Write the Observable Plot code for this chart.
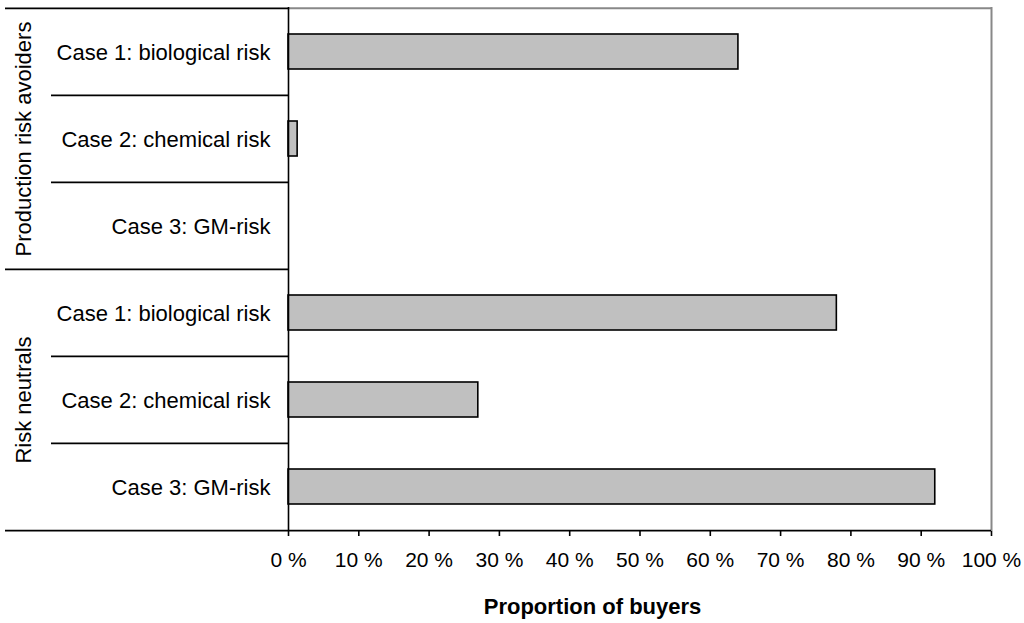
<!DOCTYPE html>
<html>
<head>
<meta charset="utf-8">
<script src="https://cdn.jsdelivr.net/npm/d3@7"></script>
<script src="https://cdn.jsdelivr.net/npm/@observablehq/plot@0.6"></script>
<style>
  html, body { margin: 0; padding: 0; background: #fff; }
  svg { display: block; }
</style>
</head>
<body>
<div id="chart"></div>
<script>
const groups = ["Production risk avoiders", "Risk neutrals"];
const cases = ["Case 1: biological risk", "Case 2: chemical risk", "Case 3: GM-risk"];
const avoiders = [64, 1.3, 0];
const neutrals = [78, 27, 92];
const xTicks = [0, 10, 20, 30, 40, 50, 60, 70, 80, 90, 100];
const xLabel = "Proportion of buyers";

const W = 1024, H = 623;
const mL = 288, mR = 33, mT = 7, mB = 92;
const series = [avoiders, neutrals];
const rows = groups.flatMap((g, gi) => cases.map((c, ci) => ({
  key: gi + "-" + ci, group: g, gi, ci, label: c, value: series[gi][ci]
})));
const keys = rows.map(r => r.key);
const labelOf = Object.fromEntries(rows.map(r => [r.key, r.label]));
const step = (H - mT - mB) / rows.length;
const k = (W - mL - mR) / 100;          // pixels per percent
const px = p => (p - mL) / k;          // pixel column -> x units
const FS = 22, TFS = 21;

const plot = Plot.plot({
  width: W, height: H,
  marginLeft: mL, marginRight: mR, marginTop: mT, marginBottom: mB,
  x: {domain: [0, 100]},
  y: {domain: keys, paddingInner: 0.6, paddingOuter: 0.3},
  style: {fontFamily: "'Liberation Sans', Arial, sans-serif", fontSize: FS + "px", color: "black", background: "white"},
  marks: [
    // gray top and right borders of plot area
    Plot.ruleY([keys[0]], {dy: -step / 2, x1: 0, x2: 100, stroke: "#888", strokeWidth: 2}),
    Plot.ruleX([100], {stroke: "#888", strokeWidth: 2}),
    // bars
    Plot.barX(rows.filter(r => r.value > 0), {y: "key", x: "value", fill: "#c0c0c0", stroke: "black", strokeWidth: 1.6}),
    // row separators in the label column
    Plot.ruleY(rows.filter(r => r.ci > 0), {y: "key", dy: -step / 2, x1: px(51), x2: 0, stroke: "black", strokeWidth: 1.6}),
    // group separators (and top line)
    Plot.ruleY(rows.filter(r => r.ci === 0), {y: "key", dy: -step / 2, x1: px(5), x2: 0, stroke: "black", strokeWidth: 1.6}),
    // bottom line
    Plot.ruleY([keys[keys.length - 1]], {dy: step / 2, x1: px(5), x2: 100, stroke: "black", strokeWidth: 1.6}),
    // group labels
    Plot.text(groups.map((g, gi) => ({g, key: gi + "-1"})), {y: "key", x: px(23), text: "g", rotate: -90, fontSize: FS, fill: "black"}),
    Plot.axisY({tickSize: 0, tickPadding: 18, tickFormat: d => labelOf[d], fontSize: FS, label: null, dy: 1}),
    Plot.axisX({ticks: xTicks, tickFormat: d => d + " %", tickSize: 5, tickPadding: 16, fontSize: TFS, label: null, strokeWidth: 1.6}),
    // left axis line
    Plot.ruleX([0], {stroke: "black", strokeWidth: 1.6}),
    // axis title
    Plot.text([xLabel], {frameAnchor: "bottom", dx: 592 - (mL + (W - mL - mR) / 2), dy: 82, fontSize: FS, fontWeight: "bold", fill: "black"})
  ]
});
document.getElementById("chart").append(plot);
</script>
</body>
</html>
